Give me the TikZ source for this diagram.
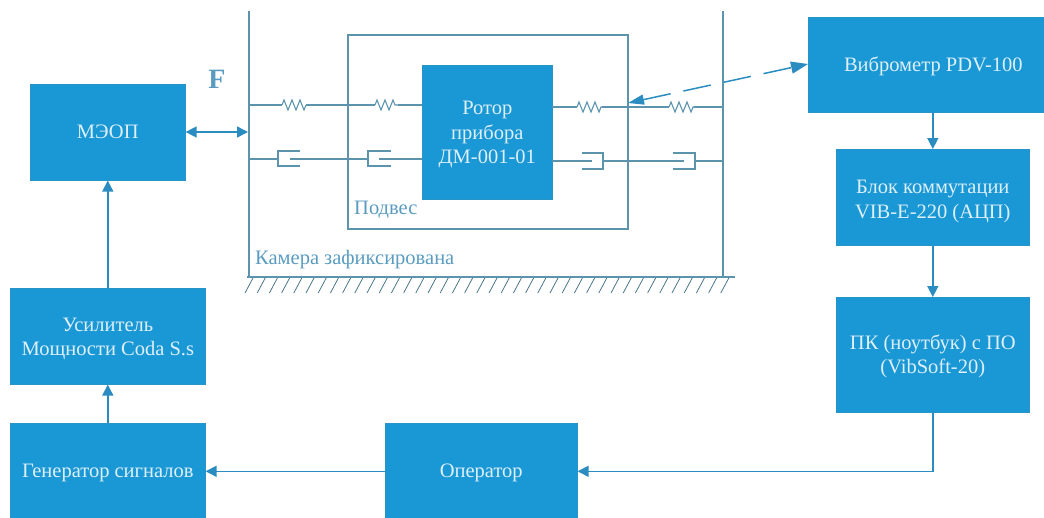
\documentclass[tikz,border=0pt]{standalone}
\usepackage{fontspec}
\setmainfont{Liberation Serif}
\usetikzlibrary{arrows.meta,decorations.pathmorphing}
\definecolor{boxblue}{HTML}{1A98D5}
\definecolor{linegray}{HTML}{5C93AD}
\definecolor{lab}{HTML}{5A9CC0}
\definecolor{arrowblue}{HTML}{2A8CC0}
\tikzset{x=1pt,y=-1pt,
 blockbox/.style={fill=boxblue,draw=boxblue!85!gray,line width=.6pt,text=white!85!boxblue,font=\fontsize{20.5}{24.3}\selectfont,align=center,inner sep=0pt},
 flow/.style={draw=arrowblue,line width=1.5pt,-{Triangle[length=11pt,width=11pt]}},
 mech/.style={draw=linegray,line width=1.1pt},
 frameline/.style={draw=linegray,line width=1.4pt},
 hatchline/.style={draw=linegray!80!black,line width=.8pt},
 lbl/.style={text=lab,font=\fontsize{20.5}{24}\selectfont,inner sep=0pt,anchor=west},
 spring/.style={mech,decorate,decoration={zigzag,segment length=8pt,amplitude=5pt}},
}
\newcommand{\lowerfirst}[1]{\rule{0pt}{#1}}
\begin{document}
\begin{tikzpicture}
\useasboundingbox (0,0) rectangle (1044,517);
\clip (0,0) rectangle (1044,517);
% blocks
\node[blockbox,minimum width=155pt,minimum height=96pt,anchor=north west] (meop) at (30,84) {МЭОП};
\node[blockbox,minimum width=195pt,minimum height=96pt,anchor=north west] (amp) at (10,288) {\lowerfirst{19pt}Усилитель\\Мощности Coda S.s};
\node[blockbox,minimum width=195pt,minimum height=96pt,anchor=north west] (gen) at (10,423) {\lowerfirst{16pt}Генератор сигналов};
\node[blockbox,minimum width=192pt,minimum height=96pt,anchor=north west] (oper) at (385,423) {\lowerfirst{16pt}Оператор};
\node[blockbox,minimum width=130pt,minimum height=134pt,anchor=north west] (rotor) at (422,65) {\lowerfirst{18pt}Ротор\\прибора\\ДМ-001-01};
\node[blockbox,minimum width=250pt,minimum height=95pt,anchor=north west] (vib) at (808,17) {\lowerfirst{17pt}Виброметр PDV-100};
\node[blockbox,minimum width=193pt,minimum height=96pt,anchor=north west] (com) at (836,149) {\lowerfirst{22pt}Блок коммутации\\VIB-E-220 (АЦП)};
\node[blockbox,minimum width=193pt,minimum height=115pt,anchor=north west] (pc) at (836,297) {\lowerfirst{18pt}ПК (ноутбук) с ПО\\(VibSoft-20)};
% frames
\coordinate (camTL) at (249,11);
\coordinate (camBL) at (249,277);
\coordinate (camTR) at (723,11);
\coordinate (camBR) at (723,277);
\coordinate (gndL) at (247,277);
\coordinate (gndR) at (735,277);
\draw[frameline] (camTL) -- (camBL);
\draw[frameline] (camTR) -- (camBR);
\draw[frameline] (gndL) -- (gndR);
\foreach \x in {0,1,2,3,4,5,6,7,8,9,10,11,12,13,14,15,16,17,18,19,20,21,22,23,24,25,26,27,28,29,30,31,32,33,34,35,36,37,38,39}
  \draw[hatchline] ({253+12.2*\x},278) -- ({245+12.2*\x},293);
\coordinate (subTL) at (348,35);
\coordinate (subBR) at (628,229);
\draw[mech] (subTL) rectangle (subBR);
% left springs
\coordinate (s1a) at (282,105); \coordinate (s1b) at (306,105);
\coordinate (s2a) at (375,105); \coordinate (s2b) at (398,105);
\draw[mech] (249,105) -- (s1a); \draw[spring] (s1a) -- (s1b); \draw[mech] (s1b) -- (s2a);
\draw[spring] (s2a) -- (s2b); \draw[mech] (s2b) -- (422,105);
% right springs
\coordinate (s3a) at (577,107); \coordinate (s3b) at (602,107);
\coordinate (s4a) at (669,107); \coordinate (s4b) at (694,107);
\draw[mech] (552,107) -- (s3a); \draw[spring] (s3a) -- (s3b); \draw[mech] (s3b) -- (s4a);
\draw[spring] (s4a) -- (s4b); \draw[mech] (s4b) -- (723,107);
% left dampers
\draw[mech] (249,159) -- (278,159);
\draw[mech] (300,151) -- (278,151) -- (278,166) -- (300,166);
\draw[mech,line width=1.4pt] (290,159) -- (368,159);
\draw[mech] (391,151) -- (368,151) -- (368,166) -- (391,166);
\draw[mech,line width=1.4pt] (379,159) -- (422,159);
% right dampers
\draw[mech] (552,161) -- (592,161);
\draw[mech] (582,153) -- (603,153) -- (603,169) -- (582,169);
\draw[mech] (603,161) -- (684,161);
\draw[mech] (673,153) -- (695,153) -- (695,169) -- (673,169);
\draw[mech] (695,161) -- (723,161);
% labels
\node[lbl] (lsub) at (354,210) {Подвес};
\node[lbl] (lcam) at (255,260) {Камера зафиксирована};
\node[text=lab,font=\fontsize{28}{30}\selectfont\bfseries,inner sep=0pt] (force) at (217,79) {F};
% connectors
\coordinate (dashA) at (628,103);
\coordinate (dashB) at (808,64);
\draw[draw=arrowblue,line width=1.5pt,dash pattern=on 28pt off 13pt,{Triangle[length=16pt,width=10pt]}-{Triangle[length=17pt,width=12pt]}] (dashA) -- (dashB);
\coordinate (wallF) at (248,132);
\draw[flow,{Triangle[length=11pt,width=11pt]}-{Triangle[length=11pt,width=11pt]}] (meop.east |- wallF) -- (wallF);
\draw[flow] (amp.north -| meop.south) -- (meop.south);
\draw[flow] (gen.north) -- (amp.south);
\draw[flow] (oper.west) -- (gen.east);
\draw[flow] (vib.south -| com.north) -- (com.north);
\draw[flow] (com.south) -- (pc.north);
\draw[flow] (pc.south) -- (pc.south |- oper.east) -- (oper.east);
\end{tikzpicture}
\end{document}
